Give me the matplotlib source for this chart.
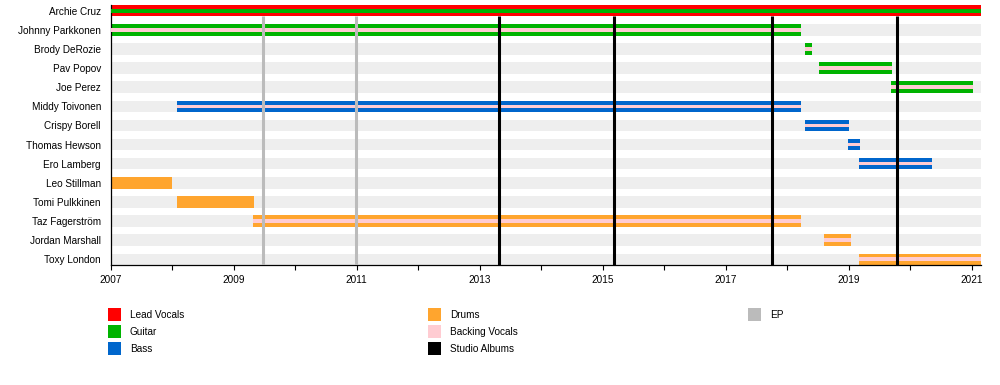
import matplotlib
matplotlib.use("Agg")
import matplotlib.pyplot as plt
from matplotlib.patches import Rectangle

plt.rcParams['font.family'] = ['Liberation Sans', 'DejaVu Sans']

# Members (top to bottom), decimal years
members = ["Archie Cruz", "Johnny Parkkonen", "Brody DeRozie", "Pav Popov", "Joe Perez",
           "Middy Toivonen", "Crispy Borell", "Thomas Hewson", "Ero Lamberg",
           "Leo Stillman", "Tomi Pulkkinen", "Taz Fagerström", "Jordan Marshall", "Toxy London"]
start = [2007.0, 2007.0, 2018.29, 2018.51, 2019.69,
         2008.07, 2018.29, 2018.99, 2019.17,
         2007.0, 2008.07, 2009.32, 2018.59, 2019.17]
end = [2021.15, 2018.23, 2018.41, 2019.71, 2021.02,
       2018.23, 2019.01, 2019.19, 2020.36,
       2008.0, 2009.33, 2018.23, 2019.03, 2021.15]
role = ["Lead Vocals", "Guitar", "Guitar", "Guitar", "Guitar",
        "Bass", "Bass", "Bass", "Bass",
        "Drums", "Drums", "Drums", "Drums", "Drums"]
second_role = ["Guitar", "Backing Vocals", "Backing Vocals", "Backing Vocals", "Backing Vocals",
               "Backing Vocals", "Backing Vocals", "Backing Vocals", "Backing Vocals",
               None, None, "Backing Vocals", "Backing Vocals", "Backing Vocals"]

studio_albums = [2013.31, 2015.18, 2017.76, 2019.79]
eps = [2009.48, 2010.99]

colors = {
    "Lead Vocals": "#ff0000",
    "Guitar": "#00b300",
    "Bass": "#0066cc",
    "Drums": "#ffa52e",
    "Backing Vocals": "#ffccd2",
    "Studio Albums": "#000000",
    "EP": "#bbbbbb",
}
legend_cols = [["Lead Vocals", "Guitar", "Bass"],
               ["Drums", "Backing Vocals", "Studio Albums"],
               ["EP"]]

W, H = 1000, 385
fig = plt.figure(figsize=(W / 100, H / 100), dpi=100)
ax = fig.add_axes([110.7 / W, 1 - 265 / H, (981 - 110.7) / W, 260 / H])

n = len(members)
rows = list(range(n))
bar_h = 0.6
xmin, xmax = 2007, 2021.15

# background stripes
ax.barh(rows, xmax - xmin, left=xmin, height=bar_h, color="#eeeeee", zorder=1)

# main bars
ax.barh(rows, [e - s for s, e in zip(start, end)], left=start, height=bar_h,
        color=[colors[r] for r in role], zorder=2)

# inner stripes (second role)
for i in rows:
    if second_role[i] is not None:
        ax.barh(i, end[i] - start[i], left=start[i], height=0.19,
                color=colors[second_role[i]], zorder=3)

# release lines
ax.vlines(eps, 0.3, n - 1 + 0.31, color=colors["EP"], lw=2.2, zorder=4)
ax.vlines(studio_albums, 0.3, n - 1 + 0.31, color=colors["Studio Albums"], lw=2.2, zorder=4)

ax.set_xlim(xmin, xmax)
ax.set_ylim(n - 1 + bar_h / 2, -bar_h / 2)
ax.set_yticks(rows)
ax.set_yticklabels(members, fontsize=7.2)
ax.tick_params(axis='y', length=0, pad=7)
ax.set_xticks(range(2007, 2022, 2))
ax.set_xticks(range(2007, 2022), minor=True)
ax.tick_params(axis='x', which='both', length=3.5, width=0.8, labelsize=7.2, pad=4)
for side in ["top", "right"]:
    ax.spines[side].set_visible(False)
for side in ["left", "bottom"]:
    ax.spines[side].set_linewidth(0.9)

# legend
col_x = [108, 428, 748]
row_y = [314, 331, 348]
for cx, labels in zip(col_x, legend_cols):
    for ry, lab in zip(row_y, labels):
        fig.add_artist(Rectangle((cx / W, 1 - (ry + 6.5) / H), 13 / W, 13 / H,
                                 transform=fig.transFigure, color=colors[lab], lw=0))
        fig.text((cx + 22) / W, 1 - (ry + 1) / H, lab, fontsize=7.2, va='center', ha='left')

fig.savefig("out.png", dpi=100)
